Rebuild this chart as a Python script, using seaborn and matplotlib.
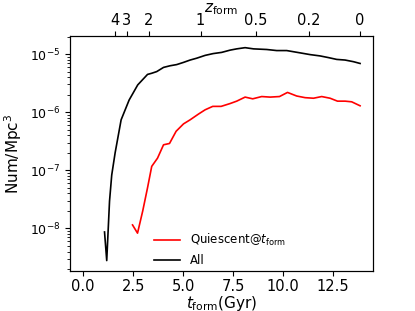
import numpy as np
import pandas as pd
import matplotlib
matplotlib.use('Agg')
import matplotlib.pyplot as plt
import seaborn as sns

# ----------------- data -----------------
# all galaxies: formation time (Gyr) and number density (Mpc^-3)
t_all = [1.07, 1.18, 1.32, 1.43, 1.60, 1.90, 2.30, 2.73, 3.22, 3.43, 3.68, 4.02,
         4.35, 4.68, 5.02, 5.35, 5.68, 6.10, 6.50, 6.93, 7.35, 7.68, 8.10, 8.52,
         9.18, 9.68, 10.18, 10.85, 11.35, 11.85, 12.27, 12.68, 13.10, 13.52, 13.85]
n_all = [8.7e-9, 2.8e-9, 2.95e-8, 8.3e-8, 2.0e-7, 7.4e-7, 1.62e-6, 2.95e-6,
         4.47e-6, 4.68e-6, 5.0e-6, 5.9e-6, 6.3e-6, 6.6e-6, 7.2e-6, 7.9e-6,
         8.5e-6, 9.5e-6, 1.02e-5, 1.07e-5, 1.17e-5, 1.23e-5, 1.29e-5, 1.23e-5,
         1.2e-5, 1.15e-5, 1.15e-5, 1.05e-5, 9.8e-6, 9.3e-6, 8.7e-6, 8.1e-6,
         7.9e-6, 7.4e-6, 6.9e-6]

# quiescent at t_form
t_q = [2.47, 2.72, 2.98, 3.22, 3.43, 3.72, 4.02, 4.32, 4.65, 5.02, 5.35, 5.77,
       6.10, 6.48, 6.90, 7.35, 7.68, 8.10, 8.48, 8.93, 9.35, 9.82, 10.22, 10.68,
       11.10, 11.52, 11.93, 12.35, 12.72, 13.10, 13.43, 13.85]
n_q = [1.15e-8, 8.3e-9, 2.0e-8, 5.0e-8, 1.17e-7, 1.62e-7, 2.75e-7, 2.9e-7,
       4.7e-7, 6.3e-7, 7.4e-7, 9.3e-7, 1.1e-6, 1.26e-6, 1.26e-6, 1.41e-6,
       1.55e-6, 1.82e-6, 1.7e-6, 1.86e-6, 1.82e-6, 1.86e-6, 2.19e-6, 1.9e-6,
       1.78e-6, 1.74e-6, 1.86e-6, 1.74e-6, 1.55e-6, 1.55e-6, 1.51e-6, 1.29e-6]

# top axis: redshift labels at their cosmic times
z_labels = ['4', '3', '2', '1', '0.5', '0.2', '0']
z_times = [1.60, 2.18, 3.28, 5.87, 8.63, 11.30, 13.85]

df_all = pd.DataFrame({'t': t_all, 'n': n_all})
df_q = pd.DataFrame({'t': t_q, 'n': n_q})

# ----------------- plot -----------------
fig, ax = plt.subplots(figsize=(4.15, 3.11), dpi=100)
fig.subplots_adjust(left=0.169, right=0.899, top=0.884, bottom=0.129)

sns.lineplot(data=df_q, x='t', y='n', color='red', lw=1.2, sort=False,
             estimator=None, label=r'Quiescent@$t_{\rm form}$', ax=ax)
sns.lineplot(data=df_all, x='t', y='n', color='black', lw=1.2, sort=False,
             estimator=None, label='All', ax=ax)

ax.set_yscale('log')
ax.set_xlim(-0.65, 14.5)
ax.set_ylim(10**-8.73, 10**-4.69)
ax.set_xticks([0.0, 2.5, 5.0, 7.5, 10.0, 12.5])
ax.set_xlabel(r'$t_{\rm form}$(Gyr)', fontsize=11, labelpad=0)
ax.set_ylabel(r'Num/Mpc$^3$', fontsize=11)
ax.tick_params(axis='x', labelsize=10.5, pad=2)
ax.tick_params(axis='y', labelsize=9)
ax.legend(loc='lower left', frameon=False, fontsize=8.5,
          handlelength=2.2, bbox_to_anchor=(0.243, -0.03))

ax2 = ax.twiny()
ax2.set_xlim(ax.get_xlim())
ax2.set_xticks(z_times)
ax2.set_xticklabels(z_labels, fontsize=10.5)
ax2.tick_params(axis='x', pad=2)
ax2.set_xlabel(r'$z_{\rm form}$', fontsize=11, labelpad=1)

fig.savefig('out.png', dpi=100)
